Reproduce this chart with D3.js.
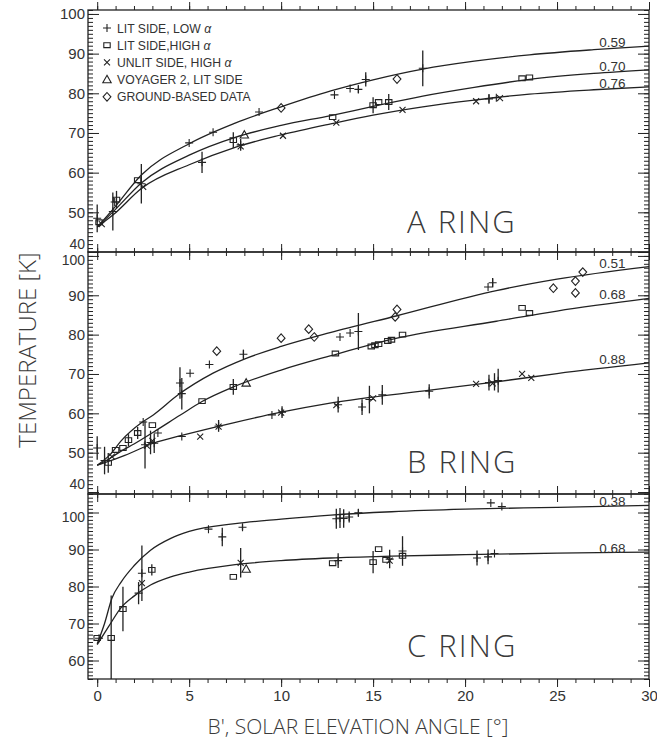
<!DOCTYPE html>
<html>
<head>
<meta charset="utf-8">
<script src="https://cdn.jsdelivr.net/npm/d3@7"></script>
<style>
  html, body { margin: 0; padding: 0; background: #fff; }
  svg text { font-family: "Liberation Sans", Arial, sans-serif; fill: #333; }
  svg text.light { font-family: "Open Sans", "Liberation Sans", sans-serif; font-weight: 300; fill: #3a3a3a; }
</style>
</head>
<body>
<script>
// Ring brightness temperatures versus solar elevation angle B'.
// Each observation: [B' (deg), T (K), half-length of the error bar (K)].

// ---- A ring ----
const aLitLow = [[0, 48.5, 3.5], [0.85, 50.2, 4.8], [0.95, 52.6, 0], [2.4, 57.2, 5], [5.0, 67.5, 0],
  [5.7, 62.6, 2.7], [6.3, 70.2, 0], [7.8, 67.0, 1.5], [8.8, 75.3, 0], [12.9, 79.6, 0],
  [13.75, 81.2, 0], [14.2, 81.0, 1], [14.6, 83.5, 1.8], [17.7, 86.3, 4.5], [21.3, 78.6, 1.2], [21.7, 78.9, 0]];
const aLitHigh = [[0.1, 47.5, 0], [1.05, 53.2, 2.2], [2.2, 58.1, 0], [7.4, 68.2, 2], [12.8, 74.0, 0],
  [15.0, 77.0, 2], [15.3, 77.8, 0], [15.85, 77.8, 2], [23.1, 83.8, 0], [23.5, 84.0, 0]];
const aUnlitHigh = [[0.25, 47.0, 0], [2.5, 56.4, 0], [7.8, 66.6, 0], [10.1, 69.3, 0], [13.0, 72.6, 0],
  [16.6, 75.8, 0], [20.6, 78.0, 0], [21.9, 78.8, 0]];
const aVoyager = [[8.0, 69.5, 0]];
const aGround = [[10.0, 76.3, 0], [16.3, 83.6, 0]];
// model curves for three emissivity-related fit parameters
const aCurve059 = [[0, 46.3], [0.9, 51.0], [2.4, 59.4], [5, 67.3], [7.5, 72.5], [10, 76.6], [12.7, 80.6],
  [15, 83.4], [17.7, 86.1], [20.5, 88.1], [23.5, 89.7], [27, 91.0], [30, 91.9]];
const aCurve070 = [[0, 46.3], [0.9, 50.3], [2.4, 57.4], [5, 64.4], [7.5, 68.9], [10, 71.9], [12.7, 74.4],
  [15, 76.7], [17.7, 79.3], [20.5, 81.5], [23.5, 83.5], [27, 85.0], [30, 85.9]];
const aCurve076 = [[0, 46.3], [0.9, 49.5], [2.4, 56.0], [5, 62.0], [7.5, 66.4], [10, 69.5], [12.7, 72.3],
  [15, 74.5], [17.7, 76.6], [20.5, 78.3], [23.5, 79.8], [27, 80.9], [30, 81.6]];

// ---- B ring ----
const bLitLow = [[0, 51.2, 3], [0.4, 48.0, 3.5], [2.5, 57.8, 0], [2.6, 52.0, 6], [2.9, 52.6, 3],
  [3.1, 52.4, 2.5], [3.3, 55.0, 0], [4.5, 67.7, 4], [4.6, 65.0, 4], [4.6, 54.1, 0], [5.05, 70.2, 0],
  [6.1, 72.4, 0], [6.6, 56.8, 1.5], [7.95, 75.0, 1.2], [9.5, 59.6, 0], [10.05, 60.3, 1.5],
  [13.1, 62.2, 2], [13.2, 79.4, 0], [13.75, 80.4, 0], [14.2, 80.8, 4.7], [14.4, 61.6, 2],
  [14.8, 63.5, 3.5], [15.5, 64.7, 2.5], [18.05, 65.6, 1.8], [21.3, 67.8, 2], [21.6, 68.0, 2.2],
  [21.8, 68.3, 3], [21.25, 92.1, 0], [21.5, 93.2, 1.2]];
const bLitHigh = [[0.6, 47.4, 2.5], [1.0, 50.7, 0], [1.4, 51.2, 0], [1.7, 53.2, 1.5], [2.2, 55.0, 1.5],
  [3.0, 57.0, 0], [5.7, 63.1, 0], [7.4, 66.7, 2], [12.95, 75.2, 0], [14.9, 77.0, 0], [15.1, 77.3, 0],
  [15.3, 77.6, 0], [15.8, 78.4, 0], [16.0, 78.7, 0], [16.6, 80.0, 0], [23.1, 86.8, 0], [23.5, 85.5, 0]];
const bUnlitHigh = [[0.8, 49.0, 0], [2.7, 51.8, 0], [3.0, 53.0, 0], [5.6, 54.1, 0], [6.6, 56.6, 0],
  [10.0, 60.2, 0], [13.0, 62.1, 0], [15.0, 63.8, 0], [20.6, 67.5, 0], [21.5, 67.6, 0],
  [23.1, 70.0, 0], [23.6, 69.0, 0]];
const bVoyager = [[8.1, 67.7, 0]];
const bGround = [[6.5, 75.8, 0], [10.0, 79.1, 0], [11.5, 81.4, 0], [11.8, 79.4, 0], [16.2, 84.5, 0],
  [16.3, 86.4, 0], [24.8, 91.8, 0], [26.0, 93.6, 0], [26.0, 90.6, 0], [26.4, 95.9, 0]];
const bCurve051 = [[0, 46.8], [0.7, 49.5], [1.3, 53.0], [2.4, 57.6], [3.05, 59.6], [4.4, 64.7], [6.3, 70.2],
  [8, 73.8], [10, 77.0], [12.66, 80.5], [16.3, 84.8], [21.7, 91.2], [25, 94.1], [30, 97.3]];
const bCurve068 = [[0, 46.8], [0.7, 48.6], [1.3, 50.4], [2, 52.2], [3.05, 55.2], [4.5, 59.5], [5.7, 63.0],
  [7.4, 66.7], [10, 71.0], [12.66, 74.6], [16.3, 79.1], [21.7, 83.4], [25, 86.0], [30, 89.2]];
const bCurve088 = [[0, 46.8], [0.7, 47.9], [1.5, 49.3], [3.05, 52.4], [4.6, 54.4], [7.4, 57.6], [10, 60.3],
  [12.66, 62.6], [18.1, 65.9], [21.7, 68.0], [25, 70.1], [30, 72.8]];

// ---- C ring ----
const cLitLow = [[0.1, 66.0, 0], [2.25, 78.2, 3], [2.43, 83.6, 7.5], [6.05, 95.5, 0], [6.8, 93.4, 2.5],
  [7.9, 96.0, 0.8], [13.0, 98.3, 2.7], [13.2, 98.5, 2.7], [13.4, 98.4, 2.5], [13.7, 98.8, 1.5],
  [14.2, 99.9, 1], [21.4, 102.6, 0], [22.0, 101.6, 0], [13.1, 87.0, 2], [15.9, 87.4, 2.5],
  [16.6, 89.6, 4], [20.65, 87.7, 2], [21.25, 88.0, 2], [21.6, 88.9, 0]];
const cLitHigh = [[0, 66.1, 0], [0.76, 66.1, 11.5], [1.4, 73.9, 6], [2.97, 84.5, 1.5], [7.4, 82.6, 0],
  [12.8, 86.3, 0], [15.0, 86.6, 3], [15.3, 90.1, 0], [15.7, 87.2, 0], [16.6, 88.3, 0]];
const cUnlitHigh = [[2.43, 80.9, 0], [7.8, 86.4, 4], [15.9, 87.0, 0]];
const cVoyager = [[8.1, 84.7, 0]];
const cGround = [];
const cCurve038 = [[0, 64.5], [0.4, 70.0], [0.8, 76.8], [1.3, 81.2], [2, 85.6], [2.9, 89.8], [4, 93.0],
  [5, 94.9], [7.5, 97.0], [10, 98.2], [12.7, 99.3], [16, 100.2], [20, 100.9], [25, 101.4], [30, 101.9]];
const cCurve068 = [[0, 64.3], [0.6, 69.0], [1.3, 74.3], [2, 77.4], [2.9, 80.4], [4, 82.6], [5, 83.9],
  [7.5, 85.9], [10, 87.0], [12.7, 87.7], [16, 88.2], [20, 88.6], [25, 89.0], [30, 89.3]];

// axis ticks
const xMajorTicks = [0, 5, 10, 15, 20, 25, 30];
const xMinorTicks = d3.range(0, 31, 1);
const legendLabels = ["LIT SIDE, LOW ", "LIT SIDE,HIGH ", "UNLIT SIDE, HIGH ", "VOYAGER 2, LIT SIDE", "GROUND-BASED DATA"];
const legendAlpha = [true, true, true, false, false];
const markerKinds = ["plus", "square", "cross", "triangle", "diamond"];

const panels = [
  { label: "A RING", domain: [40, 101], range: [252, 10], ticks: [40, 50, 60, 70, 80, 90, 100],
    sets: [aLitLow, aLitHigh, aUnlitHigh, aVoyager, aGround],
    curves: [[aCurve059, "0.59"], [aCurve070, "0.70"], [aCurve076, "0.76"]], labelY: 233 },
  { label: "B RING", domain: [39.5, 101], range: [494, 252], ticks: [40, 50, 60, 70, 80, 90, 100],
    sets: [bLitLow, bLitHigh, bUnlitHigh, bVoyager, bGround],
    curves: [[bCurve051, "0.51"], [bCurve068, "0.68"], [bCurve088, "0.88"]], labelY: 473 },
  { label: "C RING", domain: [55, 105], range: [679, 494], ticks: [60, 70, 80, 90, 100],
    sets: [cLitLow, cLitHigh, cUnlitHigh, cVoyager, cGround],
    curves: [[cCurve038, "0.38"], [cCurve068, "0.68"]], labelY: 657 }
];

const W = 657, H = 741;
const INK = "#222";
const svg = d3.select("body").append("svg").attr("width", W).attr("height", H);
const x = d3.scaleLinear().domain([-0.5, 30]).range([88, 649]);
const [xl, xr] = x.range();

// stroked marker shapes, centred on (0,0)
const markerPath = {
  plus: "M-4,0H4M0,-4V4",
  square: "M-3.2,-2.4H3.2V2.4H-3.2Z",
  cross: "M-3,-3L3,3M-3,3L3,-3",
  triangle: "M0,-4.3L4.2,3.1L-4.2,3.1Z",
  diamond: "M0,-4.3L3.9,0L0,4.3L-3.9,0Z"
};

function styleTicks(g) {
  g.select(".domain").remove();
  g.selectAll(".tick line").attr("stroke", INK).attr("stroke-width", 1);
}

panels.forEach((p, i) => {
  const y = d3.scaleLinear().domain(p.domain).range(p.range);
  const [yb, yt] = p.range;
  const g = svg.append("g");

  const clipId = "clip" + i;
  svg.append("clipPath").attr("id", clipId)
    .append("rect").attr("x", xl).attr("y", yt).attr("width", xr - xl).attr("height", yb - yt);

  const yMinor = d3.range(Math.ceil(p.domain[0]), Math.floor(p.domain[1]) + 1);

  // y axis: minor + major ticks on both sides
  g.append("g").attr("transform", `translate(${xl},0)`)
    .call(d3.axisLeft(y).tickValues(yMinor).tickSize(-5).tickFormat(""))
    .call(styleTicks);
  g.append("g").attr("transform", `translate(${xr},0)`)
    .call(d3.axisRight(y).tickValues(yMinor).tickSize(-5).tickFormat(""))
    .call(styleTicks);
  g.append("g").attr("transform", `translate(${xr},0)`)
    .call(d3.axisRight(y).tickValues(p.ticks).tickSize(-11).tickFormat(""))
    .call(styleTicks);
  const yLab = g.append("g").attr("transform", `translate(${xl},0)`)
    .call(d3.axisLeft(y).tickValues(p.ticks).tickSize(-11).tickPadding(3).tickFormat(d3.format("d")))
    .call(styleTicks)
    .call(s => s.selectAll("text").attr("font-size", 15).attr("fill", "#333")
      .style("font-family", "'Liberation Sans', Arial, sans-serif"));
  // the panels share a border: keep the labels on either side of it apart
  const first = p.ticks[0], lastTick = p.ticks[p.ticks.length - 1];
  if (i < panels.length - 1) {
    yLab.selectAll(".tick").filter(d => d === first).select("text")
      .attr("font-size", 14).attr("dy", "-0.22em");
  }
  if (i > 0) {
    yLab.selectAll(".tick").filter(d => d === lastTick).select("text")
      .attr("font-size", 14).attr("dy", "0.62em");
  }

  // x axis ticks on top and bottom of each panel
  [[d3.axisTop, yb], [d3.axisBottom, yt]].forEach(([fn, yy]) => {
    g.append("g").attr("transform", `translate(0,${yy})`)
      .call(fn(x).tickValues(xMinorTicks).tickSize(-4).tickFormat(""))
      .call(styleTicks);
    g.append("g").attr("transform", `translate(0,${yy})`)
      .call(fn(x).tickValues(xMajorTicks).tickSize(-8).tickFormat(""))
      .call(styleTicks);
  });

  if (i === panels.length - 1) {
    g.append("g").attr("transform", `translate(0,${yb})`)
      .call(d3.axisBottom(x).tickValues(xMajorTicks).tickSize(0).tickPadding(11).tickFormat(d3.format("d")))
      .call(styleTicks)
      .call(s => s.selectAll("text").attr("font-size", 15).attr("fill", "#333")
        .style("font-family", "'Liberation Sans', Arial, sans-serif"));
  }

  // frame
  g.append("rect").attr("x", xl).attr("y", yt).attr("width", xr - xl).attr("height", yb - yt)
    .attr("fill", "none").attr("stroke", INK).attr("stroke-width", 1.3);

  const plot = g.append("g").attr("clip-path", `url(#${clipId})`);

  // model curves
  const line = d3.line().x(d => x(d[0])).y(d => y(d[1])).curve(d3.curveMonotoneX);
  p.curves.forEach(([pts, lab]) => {
    plot.append("path").attr("d", line(pts)).attr("fill", "none")
      .attr("stroke", INK).attr("stroke-width", 1.3);
    const last = pts[pts.length - 1];
    g.append("text").attr("x", x(27.3)).attr("y", y(last[1]) + 1)
      .attr("font-size", 13.5).text(lab);
  });

  // observations: error bars then markers
  p.sets.forEach((set, k) => {
    const errs = set.filter(d => d[2] > 0);
    plot.selectAll(null).data(errs).join("line")
      .attr("x1", d => x(d[0])).attr("x2", d => x(d[0]))
      .attr("y1", d => y(d[1] - d[2])).attr("y2", d => y(d[1] + d[2]))
      .attr("stroke", INK).attr("stroke-width", 1.3);
    plot.selectAll(null).data(set).join("path")
      .attr("transform", d => `translate(${x(d[0])},${y(d[1])})`)
      .attr("d", markerPath[markerKinds[k]])
      .attr("fill", "none").attr("stroke", INK).attr("stroke-width", 1.1);
  });

  // panel name
  g.append("text").attr("class", "light").attr("x", 407).attr("y", p.labelY)
    .attr("font-size", 31).attr("letter-spacing", 2).text(p.label);
});

// legend in the A panel
const legend = svg.append("g");
legendLabels.forEach((lab, k) => {
  const cy = 28 + k * 17.2;
  legend.append("path").attr("transform", `translate(107,${cy})`)
    .attr("d", markerPath[markerKinds[k]])
    .attr("fill", "none").attr("stroke", INK).attr("stroke-width", 1.1);
  const t = legend.append("text").attr("x", 117).attr("y", cy + 4.5).attr("font-size", 12.2).text(lab);
  if (legendAlpha[k]) t.append("tspan").attr("font-style", "italic").text("α");
});

// axis titles
svg.append("text").attr("class", "light").attr("x", 358).attr("y", 734).attr("text-anchor", "middle")
  .attr("font-size", 21).text("B', SOLAR ELEVATION ANGLE [°]");
svg.append("text").attr("class", "light").attr("transform", "translate(36,350) rotate(-90)")
  .attr("text-anchor", "middle").attr("font-size", 24).text("TEMPERATURE [K]");
</script>
</body>
</html>
